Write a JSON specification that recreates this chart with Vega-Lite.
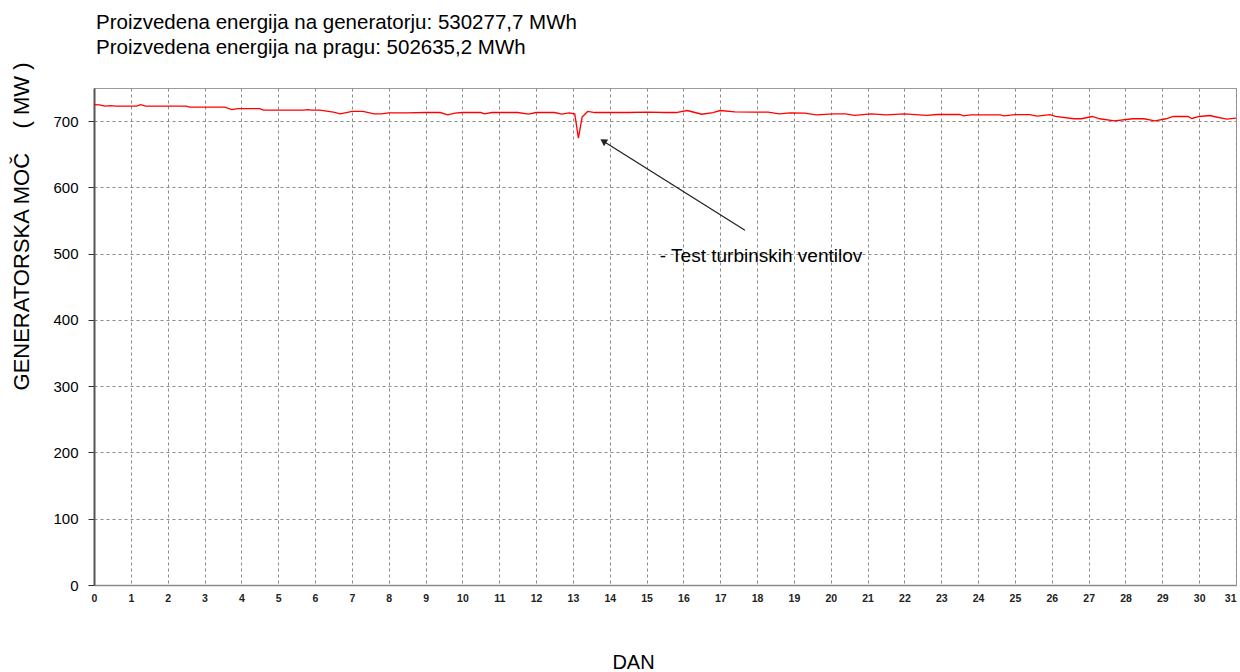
{
  "$schema": "https://vega.github.io/schema/vega-lite/v6.json",
  "width": 1142,
  "height": 497,
  "autosize": {"type": "none"},
  "padding": {"left": 94, "top": 88, "right": 4, "bottom": 87},
  "background": "white",
  "config": {
    "font": "Liberation Sans",
    "view": {"stroke": "#9a9a9a", "strokeWidth": 1},
    "axis": {
      "gridColor": "#8a8a8a",
      "gridDash": [3, 3],
      "gridWidth": 1,
      "labelColor": "#000000",
      "titleColor": "#000000",
      "titleFontWeight": "normal",
      "domainColor": "#8a8a8a"
    }
  },
  "title": {
    "text": ["Proizvedena energija na generatorju: 530277,7 MWh", "Proizvedena energija na pragu: 502635,2 MWh"],
    "anchor": "start",
    "frame": "group",
    "fontSize": 20.5,
    "fontWeight": "normal",
    "lineHeight": 25,
    "offset": 3,
    "color": "#000000",
    "dx": 2
  },
  "datasets": {
    "power": [
      {"dan": 0.0, "moc": 725}, {"dan": 0.15, "moc": 724.5}, {"dan": 0.3, "moc": 722.8}, {"dan": 0.45, "moc": 723.5},
      {"dan": 0.6, "moc": 722.6}, {"dan": 1.15, "moc": 722.6}, {"dan": 1.27, "moc": 725}, {"dan": 1.4, "moc": 722.6},
      {"dan": 2.5, "moc": 722.6}, {"dan": 2.6, "moc": 721}, {"dan": 3.55, "moc": 721}, {"dan": 3.74, "moc": 717.5},
      {"dan": 3.9, "moc": 718.8}, {"dan": 4.5, "moc": 718.8}, {"dan": 4.6, "moc": 716.6}, {"dan": 5.7, "moc": 716.6},
      {"dan": 5.8, "moc": 717.5}, {"dan": 5.9, "moc": 716.6}, {"dan": 6.13, "moc": 716.6}, {"dan": 6.5, "moc": 713.6},
      {"dan": 6.68, "moc": 711}, {"dan": 6.85, "moc": 713}, {"dan": 7.0, "moc": 714.6}, {"dan": 7.3, "moc": 714.6},
      {"dan": 7.6, "moc": 711}, {"dan": 7.8, "moc": 711}, {"dan": 8.0, "moc": 712.5}, {"dan": 8.5, "moc": 712.5},
      {"dan": 9.0, "moc": 713}, {"dan": 9.4, "moc": 713}, {"dan": 9.6, "moc": 709.6}, {"dan": 9.8, "moc": 712},
      {"dan": 10.0, "moc": 713}, {"dan": 10.5, "moc": 713}, {"dan": 10.6, "moc": 711}, {"dan": 10.8, "moc": 713},
      {"dan": 11.5, "moc": 713}, {"dan": 11.8, "moc": 710.5}, {"dan": 12.0, "moc": 713}, {"dan": 12.5, "moc": 713},
      {"dan": 12.7, "moc": 710.5}, {"dan": 12.9, "moc": 712.5}, {"dan": 13.05, "moc": 711}, {"dan": 13.15, "moc": 674.4},
      {"dan": 13.25, "moc": 706}, {"dan": 13.4, "moc": 714.6}, {"dan": 13.6, "moc": 713}, {"dan": 14.5, "moc": 713},
      {"dan": 15.0, "moc": 713.5}, {"dan": 15.5, "moc": 713}, {"dan": 15.8, "moc": 713}, {"dan": 16.1, "moc": 716},
      {"dan": 16.5, "moc": 710.4}, {"dan": 16.8, "moc": 713}, {"dan": 17.0, "moc": 716}, {"dan": 17.4, "moc": 714},
      {"dan": 17.9, "moc": 713.6}, {"dan": 18.3, "moc": 713.6}, {"dan": 18.6, "moc": 711}, {"dan": 18.9, "moc": 712.6},
      {"dan": 19.3, "moc": 712}, {"dan": 19.6, "moc": 709.4}, {"dan": 20.1, "moc": 711}, {"dan": 20.4, "moc": 711},
      {"dan": 20.65, "moc": 708.7}, {"dan": 21.1, "moc": 711}, {"dan": 21.5, "moc": 709.4}, {"dan": 22.0, "moc": 711},
      {"dan": 22.6, "moc": 708.7}, {"dan": 22.9, "moc": 710}, {"dan": 23.5, "moc": 710}, {"dan": 23.6, "moc": 708},
      {"dan": 23.8, "moc": 709.5}, {"dan": 24.6, "moc": 709.5}, {"dan": 24.7, "moc": 708}, {"dan": 25.0, "moc": 709.7},
      {"dan": 25.4, "moc": 709.7}, {"dan": 25.6, "moc": 707.5}, {"dan": 25.95, "moc": 709.7}, {"dan": 26.1, "moc": 707.3},
      {"dan": 26.6, "moc": 703.6}, {"dan": 26.8, "moc": 703.6}, {"dan": 27.1, "moc": 707}, {"dan": 27.3, "moc": 703.6},
      {"dan": 27.7, "moc": 700.3}, {"dan": 28.2, "moc": 703.6}, {"dan": 28.5, "moc": 703.6}, {"dan": 28.8, "moc": 700.5},
      {"dan": 29.1, "moc": 703.6}, {"dan": 29.3, "moc": 707}, {"dan": 29.7, "moc": 707}, {"dan": 29.8, "moc": 704},
      {"dan": 30.0, "moc": 707}, {"dan": 30.3, "moc": 708.5}, {"dan": 30.4, "moc": 707}, {"dan": 30.75, "moc": 703},
      {"dan": 31.0, "moc": 704.6}
    ],
    "note": [
      {"x1": 17.67, "y1": 535.4, "x2": 13.85, "y2": 669.0, "tx": 15.36, "ty": 496, "label": "- Test turbinskih ventilov"}
    ]
  },
  "layer": [
    {
      "data": {"name": "power"},
      "mark": {"type": "line", "color": "#ff0000", "strokeWidth": 1.3, "interpolate": "linear"},
      "encoding": {
        "x": {
          "field": "dan", "type": "quantitative",
          "scale": {"domain": [0, 31], "nice": false, "zero": false},
          "axis": {
            "title": "DAN",
            "titleFontSize": 20,
            "titleX": 539,
            "titleY": 77,
            "titleBaseline": "middle",
            "titleAnchor": null,
            "tickCount": 200,
            "format": "d",
            "values": [0,0.5,1,1.5,2,2.5,3,3.5,4,4.5,5,5.5,6,6.5,7,7.5,8,8.5,9,9.5,10,10.5,11,11.5,12,12.5,13,13.5,14,14.5,15,15.5,16,16.5,17,17.5,18,18.5,19,19.5,20,20.5,21,21.5,22,22.5,23,23.5,24,24.5,25,25.5,26,26.5,27,27.5,28,28.5,29,29.5,30,30.5,31],
            "labelExpr": "datum.value % 1 === 0 ? format(datum.value, 'd') : ''",
            "labelAlign": {"condition": {"test": "datum.value === 31", "value": "right"}, "value": "center"},
            "labelFontSize": 10.5,
            "labelFontWeight": "bold",
            "labelColor": "#222222",
            "labelPadding": 8,
            "ticks": false,
            "grid": true,
            "domainWidth": 1.5,
            "labelOverlap": false,
            "labelFlush": false
          }
        },
        "y": {
          "field": "moc", "type": "quantitative",
          "scale": {"domain": [0, 750], "nice": false},
          "axis": {
            "title": "GENERATORSKA MOČ\u00a0\u00a0\u00a0\u00a0(\u00a0MW\u00a0)",
            "titleFontSize": 22,
            "titleX": -73,
            "titleY": 138,
            "titleAnchor": null,
            "titleAlign": "center",
            "titleBaseline": "middle",
            "tickCount": 20,
            "values": [0, 100, 200, 300, 400, 500, 600, 700],
            "labelFontSize": 15,
            "labelPadding": 10,
            "tickSize": 6,
            "tickColor": "#333333",
            "domainColor": "#555555",
            "domainWidth": 2,
            "grid": true
          }
        }
      }
    },
    {
      "data": {"name": "note"},
      "mark": {"type": "rule", "color": "#222222", "strokeWidth": 1.3},
      "encoding": {
        "x": {"field": "x1", "type": "quantitative"},
        "y": {"field": "y1", "type": "quantitative"},
        "x2": {"field": "x2"},
        "y2": {"field": "y2"}
      }
    },
    {
      "data": {"name": "note"},
      "mark": {"type": "point", "shape": "triangle", "filled": true, "color": "#222222", "size": 60, "angle": 302, "opacity": 1},
      "encoding": {
        "x": {"field": "x2", "type": "quantitative"},
        "y": {"field": "y2", "type": "quantitative"}
      }
    },
    {
      "data": {"name": "note"},
      "mark": {"type": "text", "align": "left", "baseline": "middle", "fontSize": 19, "color": "#000000"},
      "encoding": {
        "x": {"field": "tx", "type": "quantitative"},
        "y": {"field": "ty", "type": "quantitative"},
        "text": {"field": "label"}
      }
    }
  ]
}
